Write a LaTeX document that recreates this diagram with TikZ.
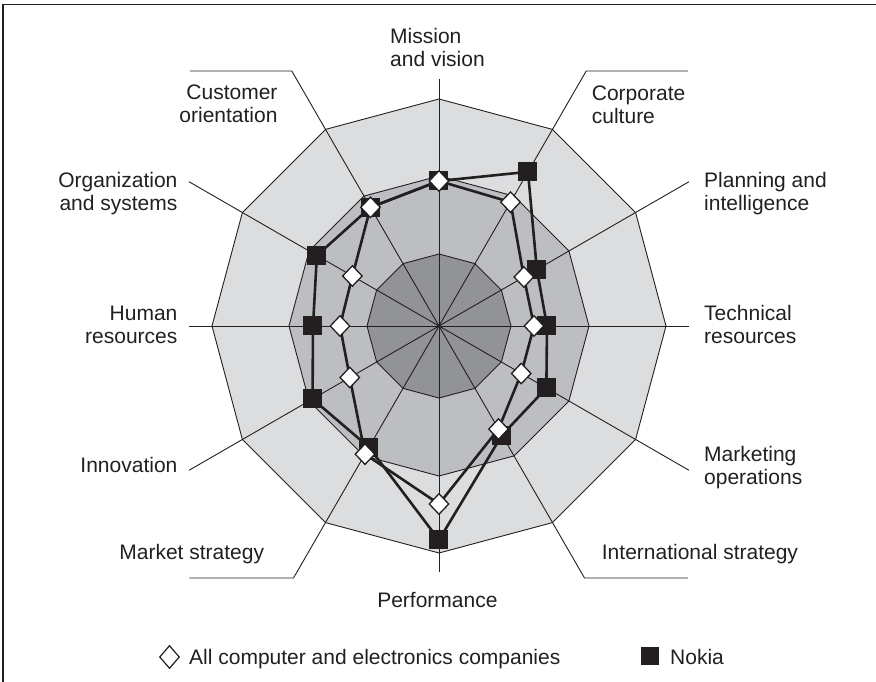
\documentclass[tikz,border=0pt]{standalone}
\usepackage{fontspec}
\setmainfont{Liberation Sans}
\usetikzlibrary{shapes.geometric}
\definecolor{ringlight}{RGB}{220,221,223}
\definecolor{ringmid}{RGB}{189,190,193}
\definecolor{ringdark}{RGB}{146,147,150}
\definecolor{ink}{RGB}{35,31,32}
\begin{document}
\begin{tikzpicture}[x=1pt,y=1pt,
  ringline/.style={draw=ink, line width=0.9pt},
  axisline/.style={draw=ink, line width=0.9pt},
  series/.style={draw=ink, line width=2.6pt, line join=round},
  nokiamark/.style={rectangle, fill=ink, minimum size=19pt, inner sep=0pt},
  allmark/.style={diamond, draw=ink, fill=white, line width=1.3pt, minimum width=20pt, minimum height=21pt, inner sep=0pt},
  lbl/.style={font=\fontsize{21}{22.7}\selectfont, text=ink, inner sep=0pt},
]
\useasboundingbox (-439,-356) rectangle (437,326);
% frame
\draw[ink, line width=1.2pt] (-436,-360) -- (-436,321.7) -- (440,321.7);

% rings
\coordinate (c) at (0,0);
\filldraw[ringline, fill=ringlight] (0:227) \foreach \a in {30,60,...,330}{ -- (\a:227)} -- cycle;
\filldraw[ringline, fill=ringmid] (0:150) \foreach \a in {30,60,...,330}{ -- (\a:150)} -- cycle;
\filldraw[ringline, fill=ringdark] (0:72) \foreach \a in {30,60,...,330}{ -- (\a:72)} -- cycle;

% axes and leaders
\coordinate (eN) at (0,247);
\coordinate (eS) at (0,-246);
\coordinate (eE) at (250,0);
\coordinate (eW) at (-250,0);
\coordinate (e30) at (250,144.3);
\coordinate (e150) at (-250,144.3);
\coordinate (e210) at (-250,-144.3);
\coordinate (e330) at (250,-144.3);
\coordinate (e60) at (147.2,255);
\coordinate (e60h) at (249,255);
\coordinate (e120) at (-147.2,255);
\coordinate (e120h) at (-249,255);
\coordinate (e240) at (-145.5,-252);
\coordinate (e240h) at (-249.5,-252);
\coordinate (e300) at (145.5,-252);
\coordinate (e300h) at (249,-252);
\draw[axisline] (c) -- (eN);
\draw[axisline] (c) -- (eS);
\draw[axisline] (c) -- (eE);
\draw[axisline] (c) -- (eW);
\draw[axisline] (c) -- (e30);
\draw[axisline] (c) -- (e150);
\draw[axisline] (c) -- (e210);
\draw[axisline] (c) -- (e330);
\draw[axisline] (c) -- (e60) -- (e60h);
\draw[axisline] (c) -- (e120) -- (e120h);
\draw[axisline] (c) -- (e240) -- (e240h);
\draw[axisline] (c) -- (e300) -- (e300h);
\fill[ink] (c) circle (2);

% data points: Nokia
\coordinate (n1) at (90:145);
\coordinate (n2) at (60:178);
\coordinate (n3) at (30:113);
\coordinate (n4) at (0:108);
\coordinate (n5) at (-30:124);
\coordinate (n6) at (-60:126);
\coordinate (n7) at (-90:214);
\coordinate (n8) at (-120:140);
\coordinate (n9) at (-150:146);
\coordinate (n10) at (180:126);
\coordinate (n11) at (150:141);
\coordinate (n12) at (120:137);
% data points: all companies
\coordinate (a1) at (90:145);
\coordinate (a2) at (60:143);
\coordinate (a3) at (30:98);
\coordinate (a4) at (0:95);
\coordinate (a5) at (-30:95);
\coordinate (a6) at (-60:119);
\coordinate (a7) at (-90:178);
\coordinate (a8) at (-120:148);
\coordinate (a9) at (-150:103);
\coordinate (a10) at (180:99);
\coordinate (a11) at (150:100);
\coordinate (a12) at (120:137);

\draw[series] (n1) -- (n2) -- (n3) -- (n4) -- (n5) -- (n6) -- (n7) -- (n8) -- (n9) -- (n10) -- (n11) -- (n12) -- cycle;
\draw[series] (a1) -- (a2) -- (a3) -- (a4) -- (a5) -- (a6) -- (a7) -- (a8) -- (a9) -- (a10) -- (a11) -- (a12) -- cycle;

\foreach \i in {1,...,12}{ \node[nokiamark] (nm\i) at (n\i) {}; }
\foreach \i in {1,...,12}{ \node[allmark] (am\i) at (a\i) {}; }

% labels
\node[lbl, anchor=base west] (lmis1) at (-49,282.3) {Mission};
\node[lbl, anchor=base west] (lmis2) at (-49,259.2) {and vision};
\node[lbl, anchor=base west] (lcor1) at (152.7,225.3) {Corporate};
\node[lbl, anchor=base west] (lcor2) at (152.7,202.7) {culture};
\node[lbl, anchor=base west] (lpla1) at (265,138.2) {Planning and};
\node[lbl, anchor=base west] (lpla2) at (265,115.5) {intelligence};
\node[lbl, anchor=base west] (ltec1) at (265,5) {Technical};
\node[lbl, anchor=base west] (ltec2) at (265,-18) {resources};
\node[lbl, anchor=base west] (lmar1) at (265,-136) {Marketing};
\node[lbl, anchor=base west] (lmar2) at (265,-158.7) {operations};
\node[lbl, anchor=base west] (lint) at (162.7,-234) {International strategy};
\node[lbl, anchor=base] (lper) at (-1.6,-282) {Performance};
\node[lbl, anchor=base east] (lmst) at (-174.7,-234) {Market strategy};
\node[lbl, anchor=base east] (linn) at (-261.4,-147) {Innovation};
\node[lbl, anchor=base east] (lhum1) at (-261.4,5) {Human};
\node[lbl, anchor=base east] (lhum2) at (-261.4,-18) {resources};
\node[lbl, anchor=base east] (lorg1) at (-261.4,138.2) {Organization};
\node[lbl, anchor=base east] (lorg2) at (-261.4,115.5) {and systems};
\node[lbl, anchor=base east] (lcus1) at (-161.3,226.2) {Customer};
\node[lbl, anchor=base east] (lcus2) at (-161.3,203.3) {orientation};

% legend
\node[diamond, draw=ink, fill=white, line width=1.2pt, minimum width=20pt, minimum height=23pt, inner sep=0pt] (legall) at (-269.5,-331) {};
\node[lbl, anchor=base west] (legalltxt) at (-250,-338) {All computer and electronics companies};
\node[rectangle, fill=ink, minimum size=18pt, inner sep=0pt] (legnok) at (211,-330) {};
\node[lbl, anchor=base west] (legnoktxt) at (231,-338) {Nokia};
\end{tikzpicture}
\end{document}
